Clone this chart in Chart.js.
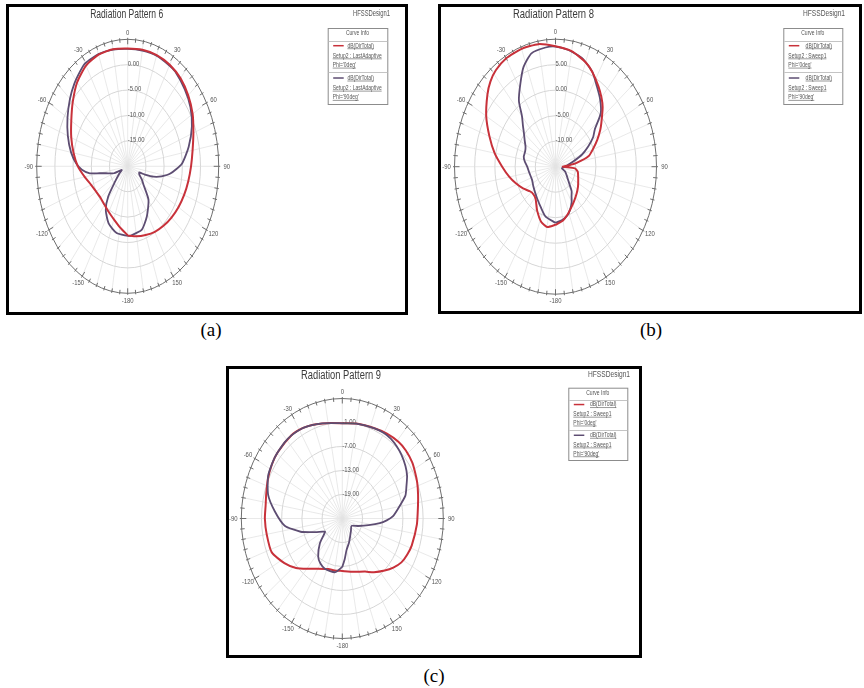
<!DOCTYPE html>
<html>
<head>
<meta charset="utf-8">
<title>Radiation patterns</title>
<script src="https://cdn.jsdelivr.net/npm/chart.js@4.4.1/dist/chart.umd.min.js"></script>
<style>
  body { margin: 0; background: #fff; }
  #page { position: relative; width: 864px; height: 688px; overflow: hidden; background: #fff; }
  .panel { position: absolute; border: 3px solid #000; box-sizing: border-box; background: #fff; }
  .panel canvas { display: block; }
  .cap { position: absolute; width: 40px; margin-left: -20px; text-align: center;
         font-family: "Liberation Serif", "Times New Roman", serif; font-size: 19px; line-height: 20px; color: #000; }
</style>
</head>
<body>
<div id="page">
  <div class="panel" style="left:6px;top:4px;width:402px;height:311px"><canvas id="chartA" width="396" height="305"></canvas></div>
  <div class="panel" style="left:438px;top:4px;width:424px;height:310px"><canvas id="chartB" width="418" height="304"></canvas></div>
  <div class="panel" style="left:226px;top:366px;width:416px;height:292px"><canvas id="chartC" width="410" height="286"></canvas></div>
  <div class="cap" style="left:211px;top:320px">(a)</div>
  <div class="cap" style="left:651px;top:320px">(b)</div>
  <div class="cap" style="left:434px;top:666px">(c)</div>
</div>
<script>
// colours of the two cuts
const RED = '#c8313a';
const PURPLE = '#5d4d72';

// angle tick labels round the outer ring (theta in degrees, 0 at top, clockwise)
const angleTickValues = [0, 30, 60, 90, 120, 150, 180, -150, -120, -90, -60, -30];
const angleTickLabels = ['0', '30', '60', '90', '120', '150', '-180', '-150', '-120', '-90', '-60', '-30'];

// ---- Radiation Pattern 6 ----
const rangeA = [-20, 5];
const ringTicksA = [-15, -10, -5, 0];
const angA0 = [-180,-170,-160,-150,-140,-130,-120,-110,-100,-90,-80,-70,-60,-50,-40,-30,-20,-10,0,10,20,30,40,50,60,70,80,90,100,110,120,130,140,150,160,170,180];
const dbA0 = [-6.4,-7.8,-8.9,-9.6,-10.1,-10.3,-10.0,-9.3,-8.0,-6.3,-4.9,-3.5,-2.1,-0.3,1.6,2.9,3.4,3.4,3.2,3.3,3.3,3.1,2.6,1.7,0.6,-0.8,-1.9,-2.6,-3.1,-3.5,-3.9,-4.3,-4.7,-5.1,-5.6,-6.0,-6.4];
const angA90 = [-180,-167,-155,-145,-138,-131,-122,-114,-110,-106,-103,-100,-97.5,-93,-88,-80,-70,-60,-50,-42,-35,-30,-20,-10,0,10,20,30,35,46,56,66,77,88,97,102,106,109,111,117,124,130,139,152,163,177,180];
const dbA90 = [-6.3,-6.5,-7.6,-9.5,-12.0,-15.4,-17.3,-18.2,-16.0,-15.0,-13.9,-12.1,-9.5,-7.4,-5.9,-4.2,-2.5,-0.9,0.7,1.9,2.8,3.4,3.5,3.3,3.1,3.1,3.15,2.9,2.75,1.8,0.8,-0.7,-2.8,-5.1,-8.2,-10.5,-12.6,-15.0,-16.6,-16.4,-15.3,-14.3,-11.3,-8.8,-6.9,-6.3,-6.3];

// ---- Radiation Pattern 8 ----
const rangeB = [-15, 10];
const ringTicksB = [-10, -5, 0, 5];
const angB0 = [-180,-170,-162,-152,-142,-135,-128,-118,-108,-100,-90,-80,-70,-60,-50,-44,-38,-30,-20,-10,0,10,20,26,34,40,45,53,57,63,70,76,82,86,90,94,100,115,125,135,145,153,162,170,180];
const dbB0 = [-3.6,-3.0,-3.6,-5.3,-7.0,-7.3,-7.1,-5.9,-4.6,-3.4,-1.8,0.3,2.4,4.8,7.0,8.2,9.0,9.5,9.6,9.4,8.6,8.0,6.8,5.7,4.0,2.7,1.5,-0.8,-1.8,-3.4,-5.2,-6.6,-9.7,-11.8,-13.2,-10.2,-9.4,-8.8,-8.2,-7.6,-6.9,-6.2,-5.2,-4.3,-3.6];
const angB90 = [-180,-166,-155,-145,-136,-125,-114,-100,-90,-82,-76,-68,-62,-56,-50,-45,-40,-35,-28,-22,-15,-6,0,8,17,26,33,40,47,53,58,64,70,77,90,100,112,121,134,140,146,150,157,163,171,180];
const dbB90 = [-4.0,-4.9,-6.3,-7.2,-7.8,-8.3,-8.65,-8.4,-8.0,-7.3,-6.9,-6.9,-6.6,-5.8,-4.8,-3.6,-2.1,0.8,3.5,6.1,8.0,8.5,8.55,8.1,7.3,5.75,3.8,2.2,0.3,-2.8,-4.0,-6.0,-8.0,-10.5,-12.65,-13.4,-12.4,-11.8,-10.3,-8.8,-7.9,-7.0,-5.8,-5.0,-4.4,-4.0];

// ---- Radiation Pattern 9 ----
const rangeC = [-25, 5];
const ringTicksC = [-19, -13, -7, -1];
const angC0 = [-180,-170,-162,-150,-141,-132,-123,-112,-100,-90,-82,-75,-66,-57,-49,-36,-28,-21,-14,-8,0,10,23,32,41,48,56,62,68,75,82,94,108,115,122,129,136,145,153,165,177,180];
const dbC0 = [-11.9,-11.8,-11.7,-10.5,-8.8,-6.5,-4.5,-2.4,-2.2,-2.0,-2.0,-1.6,-0.8,-0.1,0.35,0.7,0.5,0.05,-0.5,-0.9,-1.2,-0.9,-0.5,0.0,0.4,0.4,0.05,-0.5,-1.0,-1.7,-2.3,-2.8,-3.3,-3.7,-4.3,-5.5,-6.9,-8.6,-10.1,-11.2,-11.8,-11.9];
const angC90 = [-180,-171,-158,-150,-143,-133,-123,-119,-113,-105,-96,-85,-75,-64,-53,-42,-36,-28,-21,-14,-8,0,10,23,30,36,42,48,55,61,67,73,81,88,92,96,102,112,124,140,153,162,171,176,180];
const dbC90 = [-12.9,-11.4,-11.4,-12.0,-13.1,-15.9,-18.9,-18.2,-16.3,-12.2,-7.8,-4.9,-2.2,-0.5,0.2,0.6,0.7,0.5,0.0,-0.5,-0.9,-1.2,-0.9,-0.5,-0.3,-0.4,-0.8,-1.3,-2.1,-3.0,-4.3,-5.4,-8.1,-10.0,-11.8,-13.8,-17.0,-20.0,-21.7,-21.0,-19.9,-18.6,-17.0,-14.8,-12.9];

// polar (deg, dB) -> normalised x/y for the linear scales
function toPoints(angles, values, range) {
  return angles.map((a, i) => {
    const r = (values[i] - range[0]) / (range[1] - range[0]);
    const t = a * Math.PI / 180;
    return { x: r * Math.sin(t), y: r * Math.cos(t) };
  });
}

function drawText(ctx, text, x, y, size, sx, align, color) {
  ctx.save();
  ctx.font = size + 'px "Liberation Sans", Arial, sans-serif';
  ctx.fillStyle = color;
  ctx.textBaseline = 'middle';
  ctx.textAlign = 'left';
  const w = ctx.measureText(text).width * sx;
  const x0 = align === 'center' ? x - w / 2 : (align === 'right' ? x - w : x);
  ctx.translate(x0, y);
  ctx.scale(sx, 1);
  ctx.fillText(text, 0, 0);
  ctx.restore();
  return { x0: x0, w: w };
}

function fitText(ctx, text, x, y, size, width, align, color) {
  ctx.save();
  ctx.font = size + 'px "Liberation Sans", Arial, sans-serif';
  const sx = width / ctx.measureText(text).width;
  ctx.restore();
  return drawText(ctx, text, x, y, size, sx, align, color);
}

function underlined(ctx, text, x, y, color) {
  const r = drawText(ctx, text, x, y, 6.5, 0.77, 'left', color);
  ctx.save();
  ctx.strokeStyle = color;
  ctx.lineWidth = 0.6;
  ctx.beginPath();
  ctx.moveTo(r.x0, y + 3);
  ctx.lineTo(r.x0 + r.w, y + 3);
  ctx.stroke();
  ctx.restore();
}

function drawLegend(ctx, L) {
  const { x, y, w, h } = L;
  ctx.save();
  ctx.strokeStyle = '#8c8c8c';
  ctx.lineWidth = 1;
  ctx.strokeRect(x + 0.5, y + 0.5, w, h);
  ctx.strokeStyle = '#c4c4c4';
  [0.167, 0.583].forEach(f => {
    ctx.beginPath();
    ctx.moveTo(x + 1, Math.round(y + h * f) + 0.5);
    ctx.lineTo(x + w, Math.round(y + h * f) + 0.5);
    ctx.stroke();
  });
  ctx.restore();
  drawText(ctx, 'Curve Info', x + w / 2, y + h * 0.075, 6.5, 0.77, 'center', '#555');
  const rows = [
    { color: RED, top: 0.233, phi: "Phi='0deg'" },
    { color: PURPLE, top: 0.658, phi: "Phi='90deg'" }
  ];
  rows.forEach(r => {
    const ry = y + h * r.top;
    ctx.save();
    ctx.strokeStyle = r.color;
    ctx.lineWidth = 1.5;
    ctx.beginPath();
    ctx.moveTo(x + 5.5, ry);
    ctx.lineTo(x + 16, ry);
    ctx.stroke();
    ctx.restore();
    underlined(ctx, 'dB(DirTotal)', x + L.dbX, ry, '#555');
    underlined(ctx, L.setup, x + 5, ry + h * 0.133, '#555');
    underlined(ctx, r.phi, x + 5, ry + h * 0.255, '#555');
  });
}

// grid, labels and text boxes of an HFSS style polar plot
const polarDecor = {
  id: 'polarDecor',
  beforeDatasetsDraw(chart, args, p) {
    const { ctx, scales: { x, y } } = chart;
    const cx = x.getPixelForValue(0), cy = y.getPixelForValue(0);
    const rx = x.getPixelForValue(1) - cx, ry = cy - y.getPixelForValue(1);
    ctx.save();
    ctx.strokeStyle = '#e3e3e3';
    ctx.lineWidth = 0.8;
    for (let a = 0; a < 360; a += 10) {
      const t = a * Math.PI / 180;
      ctx.beginPath();
      ctx.moveTo(cx, cy);
      ctx.lineTo(cx + Math.sin(t) * rx, cy - Math.cos(t) * ry);
      ctx.stroke();
    }
    ctx.strokeStyle = '#d6d6d6';
    ctx.lineWidth = 1;
    p.rings.forEach(v => {
      const f = (v - p.range[0]) / (p.range[1] - p.range[0]);
      ctx.beginPath();
      ctx.ellipse(cx, cy, rx * f, ry * f, 0, 0, 2 * Math.PI);
      ctx.stroke();
    });
    ctx.strokeStyle = '#6e6e6e';
    ctx.beginPath();
    ctx.ellipse(cx, cy, rx, ry, 0, 0, 2 * Math.PI);
    ctx.stroke();
    ctx.beginPath();
    for (let a = 0; a < 360; a += 5) {
      const t = a * Math.PI / 180;
      const ux = Math.sin(t), uy = -Math.cos(t);
      const px = cx + ux * rx, py = cy + uy * ry;
      const len = a % 30 === 0 ? 5 : 3;
      ctx.moveTo(px - ux * len, py - uy * len);
      ctx.lineTo(px + ux * 1.5, py + uy * 1.5);
    }
    ctx.stroke();
    ctx.restore();
  },
  afterDraw(chart, args, p) {
    const { ctx, scales: { x, y } } = chart;
    const cx = x.getPixelForValue(0), cy = y.getPixelForValue(0);
    const rx = x.getPixelForValue(1) - cx, ry = cy - y.getPixelForValue(1);
    p.rings.forEach(v => {
      const f = (v - p.range[0]) / (p.range[1] - p.range[0]);
      drawText(ctx, v.toFixed(2), cx, cy - ry * f - 1, 8, 0.74, 'left', '#555');
    });
    angleTickValues.forEach((a, i) => {
      const t = a * Math.PI / 180;
      drawText(ctx, angleTickLabels[i], cx + Math.sin(t) * (rx + 8), cy - Math.cos(t) * (ry + 7), 8, 0.74, 'center', '#555');
    });
    fitText(ctx, p.title, p.titlePos.x, p.titlePos.y, 12, p.titlePos.w, 'center', '#3a3a3a');
    fitText(ctx, 'HFSSDesign1', p.designPos.right, p.designPos.y, 8.5, p.designPos.w, 'right', '#555');
    drawLegend(ctx, p.legend);
  }
};

function makePolar(id, cfg) {
  const red = {
    label: "Phi='0deg'", data: toPoints(cfg.ang0, cfg.db0, cfg.range),
    borderColor: RED, borderWidth: 2, order: cfg.redOnTop ? 0 : 1
  };
  const purple = {
    label: "Phi='90deg'", data: toPoints(cfg.ang90, cfg.db90, cfg.range),
    borderColor: PURPLE, borderWidth: 1.8, order: cfg.redOnTop ? 1 : 0
  };
  [red, purple].forEach(d => { d.showLine = true; d.pointRadius = 0; d.tension = 0.2; d.fill = false; });
  return new Chart(document.getElementById(id), {
    type: 'scatter',
    data: { datasets: [red, purple] },
    options: {
      responsive: false,
      animation: false,
      devicePixelRatio: 1,
      layout: { padding: cfg.pad },
      scales: {
        x: { type: 'linear', min: -1, max: 1, display: false },
        y: { type: 'linear', min: -1, max: 1, display: false }
      },
      plugins: {
        legend: { display: false },
        tooltip: { enabled: false },
        polarDecor: {
          range: cfg.range, rings: cfg.rings, title: cfg.title,
          titlePos: cfg.titlePos, designPos: cfg.designPos, legend: cfg.legend
        }
      }
    },
    plugins: [polarDecor]
  });
}

makePolar('chartA', {
  title: 'Radiation Pattern 6', range: rangeA, rings: ringTicksA,
  ang0: angA0, db0: dbA0, ang90: angA90, db90: dbA90, redOnTop: true,
  pad: { left: 27.7, top: 32.3, right: 186.3, bottom: 18.7 },
  titlePos: { x: 117.7, y: 8, w: 73 },
  designPos: { right: 381, y: 6.5, w: 37 },
  legend: { x: 318.7, y: 21, w: 59.6, h: 76, dbX: 19.7, setup: 'Setup2 : LastAdaptive' }
});

makePolar('chartB', {
  title: 'Radiation Pattern 8', range: rangeB, rings: ringTicksB,
  ang0: angB0, db0: dbB0, ang90: angB90, db90: dbB90, redOnTop: true,
  pad: { left: 13.5, top: 32.2, right: 202.5, bottom: 16.8 },
  titlePos: { x: 112.5, y: 8, w: 81 },
  designPos: { right: 404, y: 6.5, w: 42 },
  legend: { x: 342.3, y: 21, w: 59, h: 76, dbX: 22.3, setup: 'Setup2 : Sweep1' }
});

makePolar('chartC', {
  title: 'Radiation Pattern 9', range: rangeC, rings: ringTicksC,
  ang0: angC0, db0: dbC0, ang90: angC90, db90: dbC90, redOnTop: false,
  pad: { left: 12.3, top: 29.5, right: 195.7, bottom: 16.5 },
  titlePos: { x: 112, y: 6.5, w: 80 },
  designPos: { right: 401, y: 5.5, w: 42 },
  legend: { x: 339.3, y: 18.7, w: 59, h: 72.3, dbX: 21.7, setup: 'Setup2 : Sweep1' }
});
</script>
</body>
</html>
